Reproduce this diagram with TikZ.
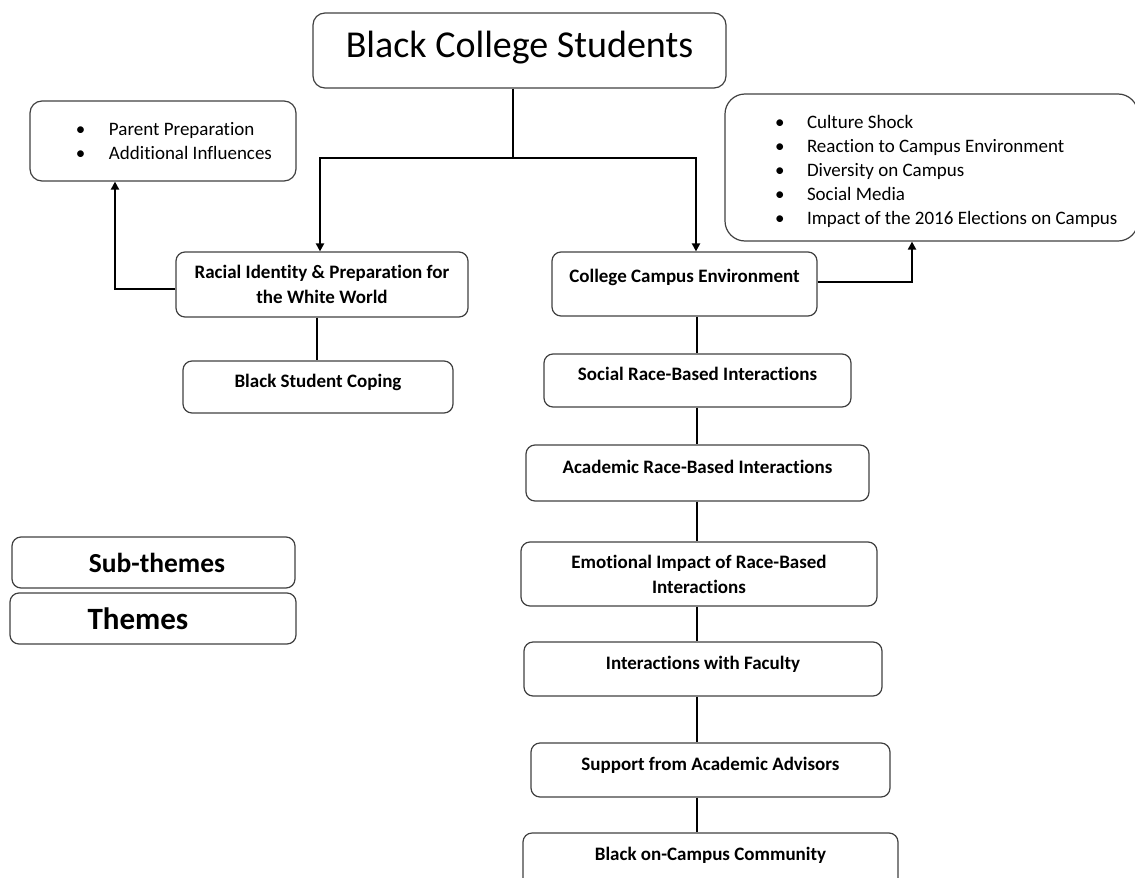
\documentclass[tikz,border=0pt]{standalone}
\usepackage{fontspec}
\usepackage{xcolor}
\setmainfont{Carlito}[Ligatures=NoCommon]
\usetikzlibrary{arrows.meta}

\definecolor{boxgray}{HTML}{404040}

\tikzset{
  theme/.style={draw=boxgray, line width=1.2pt, rounded corners=9pt, inner sep=0pt,
    font=\fontsize{19}{25}\selectfont\bfseries, align=center},
  oneline/.style={text height=13pt, text depth=13pt},
  bulletbox/.style={draw=boxgray, line width=1.2pt, inner sep=0pt,
    font=\fontsize{19}{24}\selectfont},
  link/.style={line width=2.2pt},
  linkarrow/.style={line width=2.2pt, -{Triangle[length=8pt,width=8pt]}},
}

\begin{document}
\begin{tikzpicture}[x=1pt, y=-1pt]
  \useasboundingbox (0,0) rectangle (1135,878);

  \node[theme, font=\fontsize{38}{44}\selectfont, rounded corners=12pt,
    minimum width=413pt, minimum height=75pt, text height=25pt, text depth=12pt]
    (students) at (519.5,50.5) {Black College Students};

  \node[bulletbox, rounded corners=12pt, minimum width=266pt, minimum height=80pt]
    (parent) at (163,141) {\begin{tabular}{@{\hspace{46pt}}p{33pt}@{}p{187pt}@{}}
      \rule{0pt}{20.8pt}\textbullet & Parent Preparation\\
      \textbullet & Additional Influences
    \end{tabular}};
  \node[bulletbox, rounded corners=20pt, minimum width=413pt, minimum height=147pt]
    (culture) at (931.5,167.5) {\begin{tabular}{@{\hspace{50pt}}p{32pt}@{}p{331pt}@{}}
      \rule{0pt}{24.8pt}\textbullet & Culture Shock\\
      \textbullet & Reaction to Campus Environment\\
      \textbullet & Diversity on Campus\\
      \textbullet & Social Media\\
      \textbullet & Impact of the 2016 Elections on Campus
    \end{tabular}};

  \node[theme, minimum width=292pt, minimum height=65pt] (racial) at (322,284.5)
    {Racial Identity \& Preparation for\\the White World};
  \node[theme, oneline, minimum width=270pt, minimum height=52pt] (coping) at (318,387)
    {Black Student Coping};

  \node[theme, oneline, minimum width=265pt, minimum height=64pt, text depth=16pt]
    (college) at (684.5,284) {College Campus Environment};
  \node[theme, oneline, minimum width=307pt, minimum height=53pt] (social) at (697.5,380.5)
    {Social Race-Based Interactions};
  \node[theme, oneline, minimum width=343pt, minimum height=56pt] (academic) at (697.5,473)
    {Academic Race-Based Interactions};
  \node[theme, minimum width=356pt, minimum height=64pt] (emotional) at (699,574)
    {Emotional Impact of Race-Based\\Interactions};
  \node[theme, oneline, minimum width=358pt, minimum height=54pt] (faculty) at (703,669)
    {Interactions with Faculty};
  \node[theme, oneline, minimum width=359pt, minimum height=54pt] (support) at (710.5,770)
    {Support from Academic Advisors};
  \node[theme, oneline, minimum width=375pt, minimum height=54pt] (community) at (710.5,860)
    {Black on-Campus Community};

  \node[theme, font=\fontsize{27.5}{33}\selectfont\bfseries, minimum width=283pt,
    minimum height=51pt] (subthemes) at (153.5,562.5) {\hspace*{7pt}Sub-themes};
  \node[theme, font=\fontsize{31}{37}\selectfont\bfseries, minimum width=286pt,
    minimum height=51pt] (themes) at (153,618.5) {\hspace*{-30pt}Themes};

  \coordinate (split) at (513,158);
  \coordinate (spine) at (697,0);

  \draw[link] (students.south -| split) -- (split);
  \draw[linkarrow] (split) -| ([xshift=-2pt]racial.north);
  \draw[linkarrow] (split) -| ([xshift=11.5pt]college.north);
  \draw[linkarrow] ([yshift=-4.5pt]racial.west) -| ([xshift=-48pt]parent.south);
  \draw[linkarrow] ([yshift=2pt]college.east) -| ([xshift=-19.5pt]culture.south);
  \draw[link] ([xshift=-5pt]racial.south) -- ([xshift=-5pt]racial.south |- coping.north);
  \foreach \a/\b in {college/social, social/academic, academic/emotional,
      emotional/faculty, faculty/support, support/community}
    \draw[link] (\a.south -| spine) -- (\b.north -| spine);
\end{tikzpicture}
\end{document}
